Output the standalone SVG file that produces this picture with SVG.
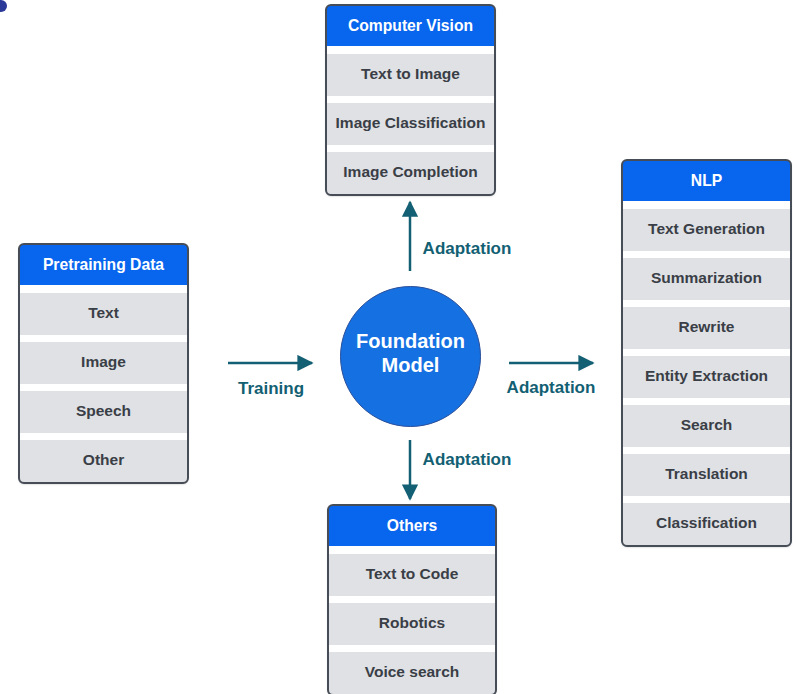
<svg xmlns="http://www.w3.org/2000/svg" width="798" height="694" viewBox="0 0 798 694">
<style>
.box{fill:none;stroke:#474d56;stroke-width:2}
.bg{fill:#ffffff}
.hd{fill:#0865ee}
.row{fill:#dfe1e5}
.ht{font-family:"Liberation Sans",Arial,sans-serif;font-weight:bold;font-size:15.7px;fill:#ffffff;text-anchor:middle}
.rt{font-family:"Liberation Sans",Arial,sans-serif;font-weight:bold;font-size:15.5px;fill:#3a3e46;text-anchor:middle}
.lbl{font-family:"Liberation Sans",Arial,sans-serif;font-weight:bold;font-size:17px;fill:#135f73;text-anchor:middle}
.ln{stroke:#135f73;stroke-width:2.5;fill:none}
</style>
<defs>
<marker id="ah" viewBox="0 0 10 10" refX="9" refY="5" markerWidth="6.5" markerHeight="6.5" markerUnits="strokeWidth" orient="auto">
<path d="M0,0 L10,5 L0,10 z" fill="#135f73"/>
</marker>
<filter id="sh" x="-10%" y="-10%" width="120%" height="120%">
<feDropShadow dx="0" dy="1" stdDeviation="1" flood-color="#000" flood-opacity="0.25"/>
</filter>
</defs>
<rect width="798" height="694" fill="#ffffff"/>
<circle cx="1" cy="6" r="6" fill="#2b3a98"/>

<g id="pretraining">
<rect x="19" y="244" width="169" height="239" rx="5" class="bg" filter="url(#sh)"/>
<path d="M19,285 V249 A5,5 0 0 1 24,244 H183 A5,5 0 0 1 188,249 V285 Z" class="hd"/>
<rect x="20" y="293" width="167" height="42" class="row"/>
<rect x="20" y="342" width="167" height="42" class="row"/>
<rect x="20" y="391" width="167" height="42" class="row"/>
<rect x="20" y="440" width="167" height="42" class="row"/>
<rect x="19" y="244" width="169" height="239" rx="5" class="box"/>
<text x="103.5" y="270" class="ht">Pretraining Data</text>
<text x="103.5" y="318" class="rt">Text</text>
<text x="103.5" y="367" class="rt">Image</text>
<text x="103.5" y="416" class="rt">Speech</text>
<text x="103.5" y="465" class="rt">Other</text>
</g>

<g id="cv">
<rect x="326" y="5" width="169" height="190" rx="5" class="bg" filter="url(#sh)"/>
<path d="M326,46 V10 A5,5 0 0 1 331,5 H490 A5,5 0 0 1 495,10 V46 Z" class="hd"/>
<rect x="327" y="54" width="167" height="42" class="row"/>
<rect x="327" y="103" width="167" height="42" class="row"/>
<rect x="327" y="152" width="167" height="42" class="row"/>
<rect x="326" y="5" width="169" height="190" rx="5" class="box"/>
<text x="410.5" y="31" class="ht">Computer Vision</text>
<text x="410.5" y="79" class="rt">Text to Image</text>
<text x="410.5" y="128" class="rt">Image Classification</text>
<text x="410.5" y="177" class="rt">Image Completion</text>
</g>

<g id="nlp">
<rect x="622" y="160" width="169" height="386" rx="5" class="bg" filter="url(#sh)"/>
<path d="M622,201 V165 A5,5 0 0 1 627,160 H786 A5,5 0 0 1 791,165 V201 Z" class="hd"/>
<rect x="623" y="209" width="167" height="42" class="row"/>
<rect x="623" y="258" width="167" height="42" class="row"/>
<rect x="623" y="307" width="167" height="42" class="row"/>
<rect x="623" y="356" width="167" height="42" class="row"/>
<rect x="623" y="405" width="167" height="42" class="row"/>
<rect x="623" y="454" width="167" height="42" class="row"/>
<rect x="623" y="503" width="167" height="42" class="row"/>
<rect x="622" y="160" width="169" height="386" rx="5" class="box"/>
<text x="706.5" y="186" class="ht">NLP</text>
<text x="706.5" y="234" class="rt">Text Generation</text>
<text x="706.5" y="283" class="rt">Summarization</text>
<text x="706.5" y="332" class="rt">Rewrite</text>
<text x="706.5" y="381" class="rt">Entity Extraction</text>
<text x="706.5" y="430" class="rt">Search</text>
<text x="706.5" y="479" class="rt">Translation</text>
<text x="706.5" y="528" class="rt">Classification</text>
</g>

<g id="others">
<rect x="328" y="505" width="168" height="190" rx="5" class="bg" filter="url(#sh)"/>
<path d="M328,546 V510 A5,5 0 0 1 333,505 H491 A5,5 0 0 1 496,510 V546 Z" class="hd"/>
<rect x="329" y="554" width="166" height="42" class="row"/>
<rect x="329" y="603" width="166" height="42" class="row"/>
<rect x="329" y="652" width="166" height="42" class="row"/>
<rect x="328" y="505" width="168" height="190" rx="5" class="box"/>
<text x="412" y="531" class="ht">Others</text>
<text x="412" y="579" class="rt">Text to Code</text>
<text x="412" y="628" class="rt">Robotics</text>
<text x="412" y="677" class="rt">Voice search</text>
</g>

<g id="foundation">
<circle cx="410.5" cy="356.5" r="70" fill="#1570e2" stroke="#2a4f9a" stroke-width="1"/>
<text x="410.5" y="348" font-family="Liberation Sans, Arial, sans-serif" font-weight="bold" font-size="20" fill="#ffffff" text-anchor="middle">Foundation</text>
<text x="410.5" y="372" font-family="Liberation Sans, Arial, sans-serif" font-weight="bold" font-size="20" fill="#ffffff" text-anchor="middle">Model</text>
</g>

<g id="connectors">
<line x1="228" y1="363" x2="312" y2="363" class="ln" marker-end="url(#ah)"/>
<text x="271" y="394" class="lbl">Training</text>
<line x1="509" y1="363" x2="593" y2="363" class="ln" marker-end="url(#ah)"/>
<text x="551" y="393" class="lbl">Adaptation</text>
<line x1="410" y1="271" x2="410" y2="202" class="ln" marker-end="url(#ah)"/>
<text x="467" y="254" class="lbl">Adaptation</text>
<line x1="410" y1="440" x2="410" y2="499" class="ln" marker-end="url(#ah)"/>
<text x="467" y="465" class="lbl">Adaptation</text>
</g>
</svg>
